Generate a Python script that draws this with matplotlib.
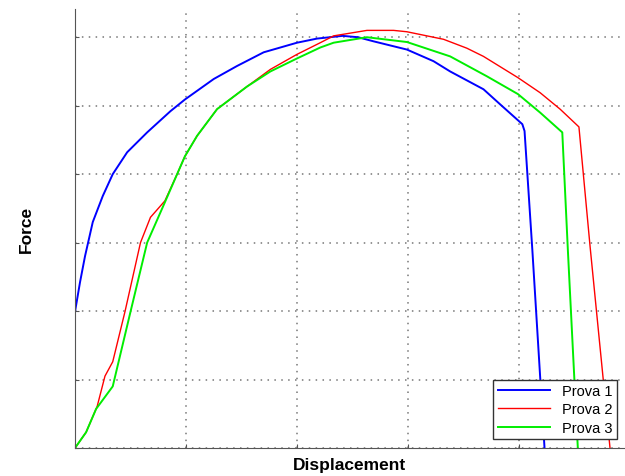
import matplotlib.pyplot as plt

# values (displacement in grid units, force in grid units)
disp1 = [0, 0, 0.045, 0.09, 0.16, 0.25, 0.34, 0.47, 0.65, 0.86, 0.99, 1.25, 1.46, 1.70,
         2.0, 2.18, 2.41, 2.55, 2.69, 2.99, 3.23, 3.38, 3.68, 3.83, 4.03, 4.05, 4.12, 4.23]
force1 = [0, 1.99, 2.42, 2.80, 3.30, 3.68, 4.0, 4.32, 4.61, 4.92, 5.09, 5.39, 5.58, 5.78,
          5.92, 5.98, 6.02, 6.0, 5.94, 5.82, 5.65, 5.50, 5.24, 5.02, 4.73, 4.63, 2.9, 0]

disp2 = [0, 0.1, 0.2, 0.27, 0.34, 0.45, 0.59, 0.68, 0.81, 0.92, 0.99, 1.1, 1.28, 1.55,
         1.76, 2.0, 2.21, 2.33, 2.63, 2.87, 2.99, 3.32, 3.53, 3.68, 3.99, 4.19, 4.37,
         4.54, 4.64, 4.82]
force2 = [0, 0.23, 0.61, 1.05, 1.26, 1.99, 3.0, 3.37, 3.61, 4.0, 4.26, 4.56, 4.95, 5.28,
          5.53, 5.75, 5.92, 6.02, 6.1, 6.1, 6.08, 5.97, 5.84, 5.72, 5.41, 5.19, 4.95,
          4.69, 2.95, 0]

disp3 = [0, 0.1, 0.19, 0.34, 0.5, 0.65, 0.81, 0.92, 0.99, 1.1, 1.28, 1.55, 1.76, 2.0,
         2.21, 2.33, 2.63, 2.99, 3.38, 3.71, 3.99, 4.19, 4.39, 4.44, 4.53]
force3 = [0, 0.23, 0.57, 0.9, 1.99, 3.0, 3.59, 4.0, 4.26, 4.56, 4.95, 5.28, 5.50, 5.69,
          5.85, 5.92, 6.0, 5.93, 5.72, 5.43, 5.17, 4.9, 4.61, 2.9, 0]

labels = ['Prova 1', 'Prova 2', 'Prova 3']

plt.rcParams['font.family'] = ['Liberation Sans', 'DejaVu Sans']

fig = plt.figure(figsize=(6.25, 4.77), dpi=100)
ax = fig.add_axes([0.12, 0.0587, 0.88, 0.920])

ax.plot(disp1, force1, color='#0000ff', lw=1.4, label=labels[0])
ax.plot(disp2, force2, color='#ff0000', lw=1.0, label=labels[1])
ax.plot(disp3, force3, color='#00ee00', lw=1.4, label=labels[2])

ax.set_xlim(0, 4.955)
ax.set_ylim(0, 6.41)
ax.set_xticks([0, 1, 2, 3, 4])
ax.set_yticks([0, 1, 2, 3, 4, 5, 6])
ax.set_xticklabels([])
ax.set_yticklabels([])
ax.tick_params(direction='in', length=3, color='#555555')
ax.grid(True, linestyle=(0, (1, 3.5)), color='#777777', linewidth=1.1)

for side in ['top', 'right']:
    ax.spines[side].set_visible(False)
for side in ['left', 'bottom']:
    ax.spines[side].set_color('#555555')

ax.set_xlabel('Displacement', fontsize=12.5, fontweight='bold', labelpad=3)
ax.set_ylabel('Force', fontsize=12.5, fontweight='bold', labelpad=26)

leg = ax.legend(loc='lower right', bbox_to_anchor=(0.985, 0.02), fancybox=False,
                edgecolor='#333333', framealpha=1, borderaxespad=0, fontsize=10.5,
                handlelength=3.6, borderpad=0.3, labelspacing=0.3)
leg.get_frame().set_linewidth(1.0)

fig.savefig('out.png', dpi=100)
